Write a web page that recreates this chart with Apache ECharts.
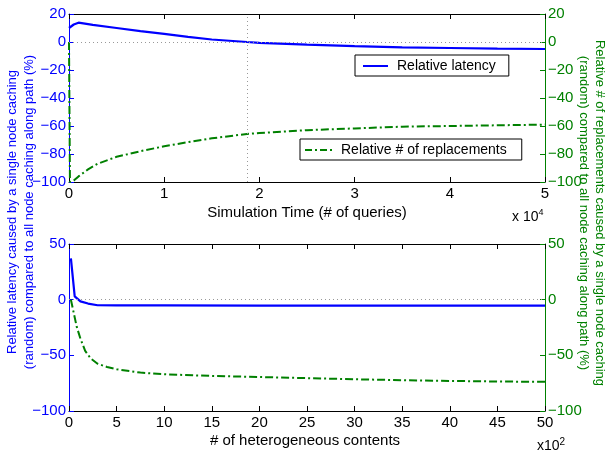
<!DOCTYPE html>
<html><head><meta charset="utf-8">
<script src="https://cdn.jsdelivr.net/npm/echarts@6/dist/echarts.min.js"></script>
<style>html,body{margin:0;padding:0;background:#fff}#c{width:605px;height:454px}</style>
</head><body><div id="c"></div>
<script>
// ---- Data (top: simulation time in units of 1e4 queries) ----
const topX            = [0, 0.01, 0.05, 0.1, 0.25, 0.5, 0.75, 1.0, 1.25, 1.5, 1.87, 2.0, 2.5, 3.0, 3.5, 4.0, 4.5, 5.0];
const topLatency      = [10, 11, 12.5, 13.8, 12.2, 10, 7.8, 5.8, 3.6, 1.8, 0, -0.6, -1.9, -3.0, -3.8, -4.3, -4.7, -5.0];
const topReplaceX     = [0, 0.01, 0.05, 0.1, 0.2, 0.3, 0.5, 0.75, 1.0, 1.25, 1.5, 1.87, 2.0, 2.5, 3.0, 3.5, 4.0, 4.5, 5.0];
const topReplacements = [0, -100, -99, -96, -91, -87, -82, -78, -74.5, -71.5, -68.8, -65.7, -65, -63, -61.7, -60.5, -60, -59.5, -59];
// ---- Data (bottom: heterogeneous contents in units of 1e2) ----
const botLatX         = [0.2, 0.6, 1.2, 2, 3, 5, 10, 20, 30, 40, 50];
const botLatency      = [37, 3, -1.5, -3.5, -5, -5.1, -5.2, -5.3, -5.3, -5.4, -5.4];
const botRepX         = [0.2, 0.5, 0.8, 1.2, 1.7, 2.3, 3, 4, 5, 7.5, 10, 15, 20, 25, 30, 35, 40, 45, 50];
const botReplacements = [0, -12, -24, -35, -46, -53, -57.5, -60.5, -62.5, -65.5, -67, -68.5, -69.5, -70.5, -71.5, -72.3, -73, -73.5, -73.8];
const crossoverX = 1.87;
const topXTicks = {min: 0, max: 5, interval: 1};
const topYTicks = {min: -100, max: 20, interval: 20};
const botXTicks = {min: 0, max: 50, interval: 5};
const botYTicks = {min: -100, max: 50, interval: 50};
const seriesNames = ['Relative latency', 'Relative # of replacements'];

const FONT = '"Liberation Sans", Arial, Helvetica, sans-serif';
const BLUE = '#0000ff', GREEN = '#008000';
const DASHDOT = [8, 3, 2, 3];
const fmt = v => String(v).replace('-', '\u2212');
const pairs = (xs, ys) => xs.map((x, i) => [x, ys[i]]);

function xAx(grid, t, pos, showLabel) {
  return {
    type: 'value', gridIndex: grid, position: pos, min: t.min, max: t.max, interval: t.interval,
    axisLine: {show: true, onZero: false, lineStyle: {color: '#000', width: 1}},
    axisTick: {show: true, inside: true, length: 5, lineStyle: {color: '#000'}},
    axisLabel: {show: showLabel, color: '#000', fontSize: 15, fontFamily: FONT, margin: 4},
    splitLine: {show: false}
  };
}
function yAx(grid, t, pos, color) {
  return {
    type: 'value', gridIndex: grid, position: pos, min: t.min, max: t.max, interval: t.interval,
    axisLine: {show: true, onZero: false, lineStyle: {color: color, width: 1}},
    axisTick: {show: true, inside: true, length: 5, lineStyle: {color: color}},
    axisLabel: {color: color, fontSize: 15, fontFamily: FONT, margin: 3, formatter: fmt},
    splitLine: {show: false}
  };
}
const dotted = {color: '#999', type: [1, 3], width: 1};
const legendBase = {
  backgroundColor: '#fff', borderColor: '#000', borderWidth: 1, borderRadius: 0,
  itemHeight: 2, selectedMode: false,
  textStyle: {fontSize: 14, color: '#000', fontFamily: FONT, padding: [0, 0, 0, 4]}
};

const chart = echarts.init(document.getElementById('c'));
chart.setOption({
  animation: false,
  backgroundColor: '#fff',
  grid: [
    {left: 69, width: 476, top: 14, height: 168},
    {left: 69, width: 476, top: 244, height: 167}
  ],
  xAxis: [
    xAx(0, topXTicks, 'bottom', true), xAx(0, topXTicks, 'top', false),
    xAx(1, botXTicks, 'bottom', true), xAx(1, botXTicks, 'top', false)
  ],
  yAxis: [
    yAx(0, topYTicks, 'left', BLUE), yAx(0, topYTicks, 'right', GREEN),
    yAx(1, botYTicks, 'left', BLUE), yAx(1, botYTicks, 'right', GREEN)
  ],
  legend: [
    Object.assign({}, legendBase, {
      data: [{name: seriesNames[0], icon: 'path://M0 0h25v2h-25z', itemStyle: {color: BLUE}}],
      left: 355, top: 55, padding: [4, 13, 3, 8], itemWidth: 25}),
    Object.assign({}, legendBase, {
      data: [{name: seriesNames[1], icon: 'path://M0 0h7v2h-7z M10 0h2v2h-2z M15 0h7v2h-7z M25 0h2v2h-2z', itemStyle: {color: GREEN}}],
      left: 300, top: 139, padding: [4, 15, 3, 5], itemWidth: 27})
  ],
  series: [
    {name: seriesNames[1], type: 'line', xAxisIndex: 0, yAxisIndex: 1, symbol: 'none',
     data: pairs(topReplaceX, topReplacements), color: GREEN,
     lineStyle: {color: GREEN, width: 2, type: DASHDOT}},
    {name: seriesNames[0], type: 'line', xAxisIndex: 0, yAxisIndex: 0, symbol: 'none',
     data: pairs(topX, topLatency), color: BLUE, lineStyle: {color: BLUE, width: 2.2},
     markLine: {silent: true, symbol: 'none', label: {show: false}, lineStyle: dotted,
       data: [{yAxis: 0}, {xAxis: crossoverX}]}},
    {name: seriesNames[1], type: 'line', xAxisIndex: 2, yAxisIndex: 3, symbol: 'none',
     data: pairs(botRepX, botReplacements), color: GREEN,
     lineStyle: {color: GREEN, width: 2, type: DASHDOT}},
    {name: seriesNames[0], type: 'line', xAxisIndex: 2, yAxisIndex: 2, symbol: 'none',
     data: pairs(botLatX, botLatency), color: BLUE, lineStyle: {color: BLUE, width: 2.2},
     markLine: {silent: true, symbol: 'none', label: {show: false}, lineStyle: dotted,
       data: [{yAxis: 0}]}}
  ],
  graphic: [
    {type: 'text', x: 307, y: 213, style: {text: 'Simulation Time (# of queries)', fontSize: 15, fontFamily: FONT,
      fill: '#000', align: 'center', verticalAlign: 'middle'}},
    {type: 'text', x: 512, y: 217, style: {text: '{a|x 10}{b|4}', fontFamily: FONT, fill: '#000',
      align: 'left', verticalAlign: 'middle',
      rich: {a: {fontSize: 14, fontFamily: FONT}, b: {fontSize: 9, fontFamily: FONT, verticalAlign: 'top', padding: [0, 0, 8, 0]}}}},
    {type: 'text', x: 305, y: 441, style: {text: '# of heterogeneous contents', fontSize: 15, fontFamily: FONT,
      fill: '#000', align: 'center', verticalAlign: 'middle'}},
    {type: 'text', x: 537, y: 446, style: {text: '{a|x10}{b|2}', fontFamily: FONT, fill: '#000',
      align: 'left', verticalAlign: 'middle',
      rich: {a: {fontSize: 14, fontFamily: FONT}, b: {fontSize: 10, fontFamily: FONT, verticalAlign: 'top', padding: [0, 0, 8, 0]}}}},
    {type: 'text', x: 21, y: 212, rotation: Math.PI / 2, style: {
      text: 'Relative latency caused by a single node caching\n(random) compared to all node caching along path (%)',
      fontSize: 13, lineHeight: 17, fontFamily: FONT, fill: BLUE, align: 'center', verticalAlign: 'middle'}},
    {type: 'text', x: 592, y: 213, rotation: -Math.PI / 2, style: {
      text: 'Relative # of replacements caused by a single node caching\n(random) compared to all node caching along path (%)',
      fontSize: 13, lineHeight: 16, fontFamily: FONT, fill: GREEN, align: 'center', verticalAlign: 'middle'}}
  ]
});
</script></body></html>
